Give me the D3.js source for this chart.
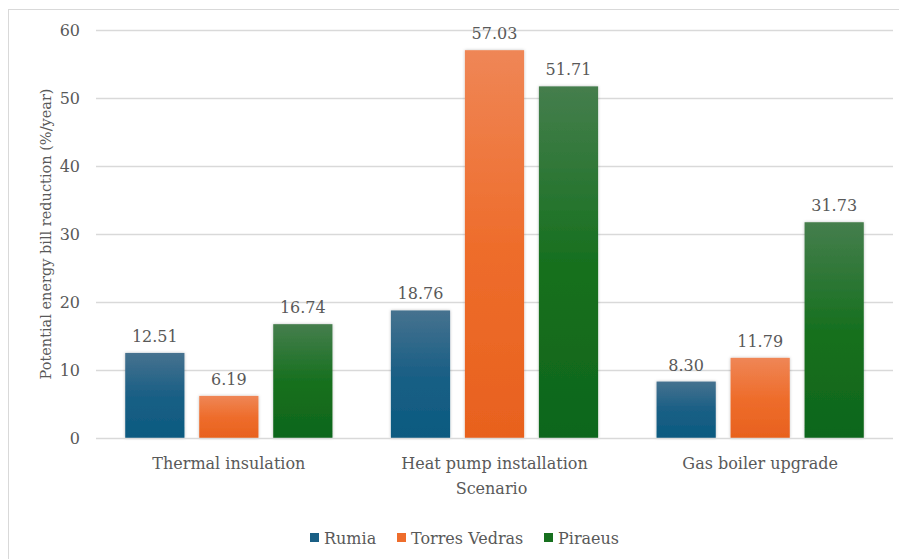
<!DOCTYPE html>
<html>
<head>
<meta charset="utf-8">
<script src="https://cdn.jsdelivr.net/npm/d3@7"></script>
<style>
  html, body { margin: 0; padding: 0; background: #ffffff; }
  svg { display: block; }
  text { font-family: "DejaVu Serif", "Liberation Serif", serif; fill: #595959; }
</style>
</head>
<body>
<svg id="chart" width="899" height="559"></svg>
<script>
// Scenarios along the x axis
const categories = ["Thermal insulation", "Heat pump installation", "Gas boiler upgrade"];
// Study sites (one bar per site within each scenario)
const series = ["Rumia", "Torres Vedras", "Piraeus"];
// Potential energy bill reduction (%/year) per site
const rumia = [12.51, 18.76, 8.30];
const torresVedras = [6.19, 57.03, 11.79];
const piraeus = [16.74, 51.71, 31.73];
// Y axis ticks
const yTicks = [0, 10, 20, 30, 40, 50, 60];

const seriesValues = [rumia, torresVedras, piraeus];
const colors = {
  "Rumia": { top: "#46728f", bottom: "#0b5a80", flat: "#1a5f85" },
  "Torres Vedras": { top: "#ef8656", bottom: "#e8611e", flat: "#ee6d2c" },
  "Piraeus": { top: "#457e4d", bottom: "#0e661b", flat: "#17701f" }
};

const svg = d3.select("#chart");
const W = 899, H = 559;
const margin = { left: 96, right: 6, top: 30, bottom: 121 };
const plotL = margin.left, plotR = W - margin.right;
const plotT = margin.top, plotB = H - margin.bottom;

// outer frame
svg.append("rect")
  .attr("x", 8.5).attr("y", 9.5)
  .attr("width", W).attr("height", H)
  .attr("fill", "none").attr("stroke", "#d9d9d9").attr("stroke-width", 1);

const defs = svg.append("defs");
series.forEach((s, i) => {
  const g = defs.append("linearGradient")
    .attr("id", "grad" + i)
    .attr("x1", 0).attr("y1", 0).attr("x2", 0).attr("y2", 1);
  g.append("stop").attr("offset", "0%").attr("stop-color", colors[s].top);
  g.append("stop").attr("offset", "50%").attr("stop-color", colors[s].flat);
  g.append("stop").attr("offset", "100%").attr("stop-color", colors[s].bottom);
});
const shadow = defs.append("filter").attr("id", "barShadow")
  .attr("x", "-20%").attr("y", "-20%").attr("width", "140%").attr("height", "140%");
shadow.append("feDropShadow")
  .attr("dx", 0).attr("dy", 0).attr("stdDeviation", 1.5)
  .attr("flood-color", "#000").attr("flood-opacity", 0.25);

const y = d3.scaleLinear().domain([0, 60]).range([plotB, plotT]);
const x0 = d3.scaleBand().domain(categories).range([plotL, plotR]).padding(0);
const x1 = d3.scaleBand().domain(series).range([0, x0.bandwidth()])
  .paddingInner(0.2).paddingOuter(0.395);

// gridlines
svg.append("g")
  .selectAll("line")
  .data(yTicks.filter(t => t > 0))
  .join("line")
  .attr("x1", plotL).attr("x2", plotR)
  .attr("y1", d => Math.round(y(d)) + 0.5).attr("y2", d => Math.round(y(d)) + 0.5)
  .attr("stroke", "#d9d9d9").attr("stroke-width", 1.3);

// y axis labels
const yAxis = d3.axisLeft(y).tickValues(yTicks).tickSize(0).tickPadding(0);
const yg = svg.append("g").attr("transform", `translate(${plotL - 16},0)`).call(yAxis);
yg.select(".domain").remove();
yg.selectAll("text")
  .attr("font-family", "DejaVu Serif, serif")
  .attr("font-size", 16).attr("fill", "#595959");

// bars
const groups = svg.append("g")
  .selectAll("g")
  .data(categories)
  .join("g")
  .attr("transform", d => `translate(${x0(d)},0)`);

groups.selectAll("rect")
  .data((c, ci) => series.map((s, si) => ({ s, si, v: seriesValues[si][ci] })))
  .join("rect")
  .attr("x", d => x1(d.s))
  .attr("y", d => y(d.v))
  .attr("width", x1.bandwidth())
  .attr("height", d => y(0) - y(d.v))
  .attr("fill", d => `url(#grad${d.si})`)
  .attr("filter", "url(#barShadow)");

groups.selectAll("text.val")
  .data((c, ci) => series.map((s, si) => ({ s, si, v: seriesValues[si][ci] })))
  .join("text")
  .attr("class", "val")
  .attr("x", d => x1(d.s) + x1.bandwidth() / 2)
  .attr("y", d => y(d.v) - 11)
  .attr("text-anchor", "middle")
  .attr("font-size", 16)
  .text(d => d.v.toFixed(2));

// x axis line
svg.append("line")
  .attr("x1", plotL).attr("x2", plotR)
  .attr("y1", plotB + 0.5).attr("y2", plotB + 0.5)
  .attr("stroke", "#d9d9d9").attr("stroke-width", 1.5);

// x axis labels
const xAxis = d3.axisBottom(x0).tickSize(0).tickPadding(0);
const xg = svg.append("g").attr("transform", `translate(0,${plotB + 20})`).call(xAxis);
xg.select(".domain").remove();
xg.selectAll("text")
  .attr("font-family", "DejaVu Serif, serif")
  .attr("font-size", 16).attr("fill", "#595959");

// axis titles
svg.append("text")
  .attr("x", (plotL + plotR) / 2 - 3).attr("y", 494)
  .attr("text-anchor", "middle").attr("font-size", 16)
  .text("Scenario");

svg.append("text")
  .attr("transform", `translate(51,${(plotT + plotB) / 2}) rotate(-90)`)
  .attr("text-anchor", "middle").attr("font-size", 14.5)
  .text("Potential energy bill reduction (%/year)");

// legend
const legendItems = [
  { s: "Rumia", x: 310 },
  { s: "Torres Vedras", x: 397 },
  { s: "Piraeus", x: 544 }
];
const lg = svg.append("g");
legendItems.forEach((it, i) => {
  lg.append("rect")
    .attr("x", it.x).attr("y", 533)
    .attr("width", 9).attr("height", 9)
    .attr("fill", colors[it.s].flat);
  lg.append("text")
    .attr("x", it.x + 14).attr("y", 544)
    .attr("font-size", 16)
    .text(it.s);
});
</script>
</body>
</html>
